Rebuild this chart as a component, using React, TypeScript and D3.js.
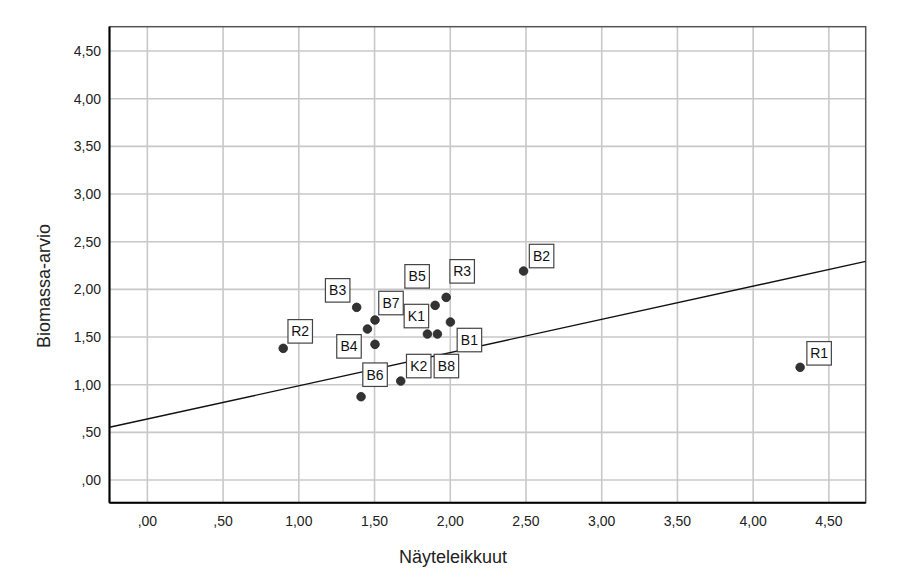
import React from "react";
import * as d3 from "d3";

// ---- Data ----
const pointNames = ["R2", "B3", "B7", "", "B4", "B6", "K2", "K1", "B8", "B5", "R3", "B1", "B2", "R1"];
const nayteleikkuut = [0.897, 1.382, 1.503, 1.453, 1.503, 1.411, 1.673, 1.849, 1.915, 1.900, 1.973, 2.001, 2.484, 4.310];
const biomassaArvio = [1.381, 1.811, 1.678, 1.584, 1.423, 0.874, 1.038, 1.531, 1.531, 1.832, 1.916, 1.657, 2.192, 1.182];
const xTicks = [0, 0.5, 1, 1.5, 2, 2.5, 3, 3.5, 4, 4.5];
const yTicks = [0, 0.5, 1, 1.5, 2, 2.5, 3, 3.5, 4, 4.5];
const xDomain = [-0.25, 4.743];
const yDomain = [-0.238, 4.755];
const fitIntercept = 0.64;
const fitSlope = 0.3485;
const xTitle = "Näyteleikkuut";
const yTitle = "Biomassa-arvio";

// ---- Layout (label box offsets from point, in px) ----
const labelOffsets: [number, number][] = [
  [17, -17], [-19, -17], [16, -17], [0, 0], [-26, 2], [14, -22], [18, -15],
  [-11, -18], [9, 32], [-18, -29], [16, -26], [19, 18], [18, -15], [19, -14],
];

const W = 910;
const H = 579;
const left = 109.5, right = 865.7, top = 26.7, bottom = 502.7;
const FONT = "'Liberation Sans', Arial, sans-serif";

const fmt = (v: number) => {
  const s = d3.format(".2f")(v).replace(".", ",");
  return s.startsWith("0,") ? s.slice(1) : s;
};

export default function App() {
  const x = d3.scaleLinear().domain(xDomain).range([left, right]);
  const y = d3.scaleLinear().domain(yDomain).range([bottom, top]);
  const line = d3
    .line<number>()
    .x((d) => x(d))
    .y((d) => y(fitIntercept + fitSlope * d));
  const boxW = 24.5, boxH = 23.5;

  return (
    <svg
      width={W}
      height={H}
      style={{ position: "absolute", left: 0, top: 0, background: "#fff" }}
      fontFamily={FONT}
    >
      <rect x={0} y={0} width={W} height={H} fill="#fff" />
      {/* grid */}
      {xTicks.map((t) => (
        <line key={"gx" + t} x1={x(t)} x2={x(t)} y1={top} y2={bottom} stroke="#c8c8c8" strokeWidth={1.6} />
      ))}
      {yTicks.map((t) => (
        <line key={"gy" + t} x1={left} x2={right} y1={y(t)} y2={y(t)} stroke="#c8c8c8" strokeWidth={1.6} />
      ))}
      {/* frame */}
      <rect x={left} y={top} width={right - left} height={bottom - top} fill="none" stroke="#555" strokeWidth={1.5} />
      <line x1={left} x2={left} y1={top} y2={bottom} stroke="#000" strokeWidth={2} />
      <line x1={left} x2={right} y1={bottom} y2={bottom} stroke="#000" strokeWidth={2} />
      {/* ticks labels */}
      {xTicks.map((t) => (
        <text key={"tx" + t} x={x(t)} y={bottom + 23.5} textAnchor="middle" fontSize={14} fill="#222">
          {fmt(t)}
        </text>
      ))}
      {yTicks.map((t) => (
        <text key={"ty" + t} x={left - 8.5} y={y(t) + 5} textAnchor="end" fontSize={14} fill="#222">
          {fmt(t)}
        </text>
      ))}
      {/* fit line */}
      <clipPath id="plotclip">
        <rect x={left} y={top} width={right - left} height={bottom - top} />
      </clipPath>
      <path d={line(xDomain) || ""} stroke="#111" strokeWidth={1.4} fill="none" clipPath="url(#plotclip)" />
      {/* points */}
      {nayteleikkuut.map((v, i) => (
        <circle key={"p" + i} cx={x(v)} cy={y(biomassaArvio[i])} r={4.3} fill="#333" stroke="#222" strokeWidth={0.8} />
      ))}
      {/* labels */}
      {nayteleikkuut.map((v, i) => {
        if (!pointNames[i]) return null;
        const cx = x(v) + labelOffsets[i][0];
        const cy = y(biomassaArvio[i]) + labelOffsets[i][1];
        return (
          <g key={"l" + i}>
            <rect x={cx - boxW / 2} y={cy - boxH / 2} width={boxW} height={boxH} fill="#fff" stroke="#444" strokeWidth={1.2} />
            <text x={cx} y={cy + 5} textAnchor="middle" fontSize={14} fill="#111">
              {pointNames[i]}
            </text>
          </g>
        );
      })}
      {/* axis titles */}
      <text x={453} y={563} textAnchor="middle" fontSize={18} fill="#222">
        {xTitle}
      </text>
      <text transform={`translate(50,${286}) rotate(-90)`} textAnchor="middle" fontSize={18} fill="#222">
        {yTitle}
      </text>
    </svg>
  );
}
